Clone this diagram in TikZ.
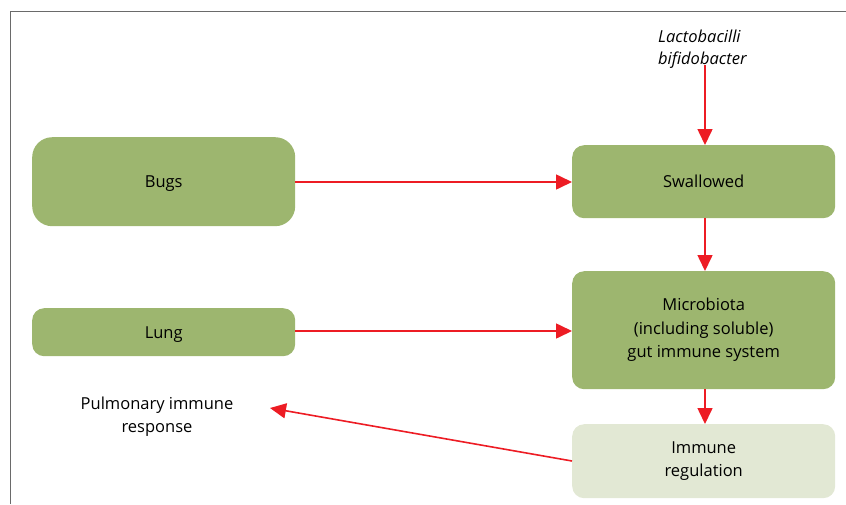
\documentclass[tikz,border=0pt]{standalone}
\usepackage{fontspec}
\setmainfont{Open Sans}
\usetikzlibrary{arrows.meta}
\definecolor{boxgreen}{HTML}{9DB66F}
\definecolor{palegreen}{HTML}{E2E8D4}
\definecolor{arrowred}{HTML}{ED1C24}
\definecolor{framegray}{HTML}{6A6A6A}
\tikzset{
  gbox/.style={fill=boxgreen, draw=none, rounded corners=12pt, font=\fontsize{16.5}{23.5}\selectfont, align=center, anchor=north west},
  onebox/.style={gbox, text depth=0pt},
  lbox/.style={gbox, fill=palegreen},
  lbl/.style={font=\fontsize{16.5}{23}\selectfont, align=center, inner sep=0pt},
  redarrow/.style={draw=arrowred, line width=1.6pt, -{Triangle[length=16pt,width=15pt]}}
}
\begin{document}
\begin{tikzpicture}[x=1pt,y=-1pt]
\useasboundingbox (0,0) rectangle (846,504);
\draw[framegray, line width=1.5pt] (10.5,504) -- (10.5,11.5) -- (846,11.5);
\node[onebox, rounded corners=20pt, minimum width=263pt, minimum height=89pt] (bugs) at (32,137) {Bugs};
\node[onebox, minimum width=263pt, minimum height=48pt] (lung) at (32,308) {Lung};
\node[onebox, minimum width=263pt, minimum height=73pt] (sw) at (572,145) {Swallowed};
\node[gbox, minimum width=263pt, minimum height=118pt] (mic) at (572,271) {Microbiota\\(including soluble)\\gut immune system};
\node[lbox, minimum width=263pt, minimum height=74pt] (imm) at (572,424) {Immune\\regulation};
\node[lbl, anchor=base] (pul) at (157,432) {Pulmonary immune\\response};
\node[lbl, align=left, anchor=base west, font=\fontsize{16.5}{22}\selectfont\itshape] (lac) at (658,64) {Lactobacilli\\bifidobacter};
\coordinate (lacend) at (705,65);
\coordinate (pulend) at (270,408);
\draw[redarrow] (lacend) -- (sw.north -| lacend);
\draw[redarrow] (bugs.east |- 0,182) -- (sw.west |- 0,182);
\draw[redarrow] (lung.east |- 0,331) -- (mic.west |- 0,331);
\draw[redarrow] (sw.south -| lacend) -- (mic.north -| lacend);
\draw[redarrow] (mic.south -| lacend) -- (imm.north -| lacend);
\draw[redarrow] (imm.west |- 0,461) -- (pulend);
\end{tikzpicture}
\end{document}
